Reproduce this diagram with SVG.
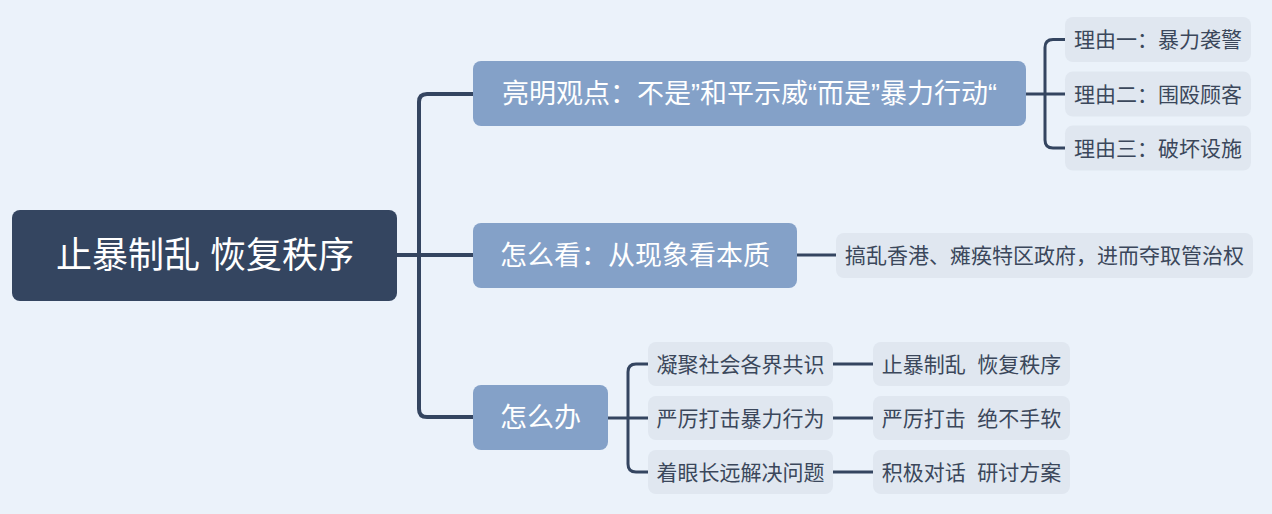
<svg xmlns="http://www.w3.org/2000/svg" width="1272" height="514" viewBox="0 0 1272 514">
<style>
text{font-family:"Liberation Sans","Noto Sans CJK SC",sans-serif;text-anchor:middle;dominant-baseline:central;white-space:pre}
.root{fill:#344560}
.rootT{fill:#ffffff;font-size:36px}
.br{fill:#84A1C8}
.brT{fill:#ffffff;font-size:27px}
.lf{fill:#E0E7F0}
.lfT{fill:#3B475B;font-size:21px}
.c{fill:none;stroke:#344560;stroke-linecap:round;stroke-linejoin:round}
.c1{stroke-width:4}
.c2{stroke-width:3}
</style>
<rect x="0" y="0" width="1272" height="514" fill="#EBF2FA"/>
<g id="connectors">
<path class="c c1" d="M397 255 H473 M473 94 H427 Q419 94 419 102 V409 Q419 417 427 417 H473"/>
<path class="c c2" d="M1026 94 H1065 M1065 39.5 H1053 Q1045 39.5 1045 47.5 V140 Q1045 148 1053 148 H1065"/>
<path class="c c2" d="M797 255 H836"/>
<path class="c c2" d="M608 418 H648 M648 364 H636 Q628 364 628 372 V464 Q628 472 636 472 H648"/>
<path class="c c2" d="M833 364 H873 M833 418 H873 M833 472 H873"/>
</g>
<g id="root"><rect class="root" x="12" y="210" width="385" height="91" rx="8"/><text class="rootT" x="205" y="255">止暴制乱 恢复秩序</text></g>
<g id="n1"><rect class="br" x="473" y="61" width="553" height="65" rx="8"/><text class="brT" x="749.5" y="93.5">亮明观点：不是”和平示威“而是”暴力行动“</text></g>
<g id="n2"><rect class="br" x="473" y="223" width="324" height="65" rx="8"/><text class="brT" x="635" y="255.5">怎么看：从现象看本质</text></g>
<g id="n3"><rect class="br" x="473" y="385" width="135" height="65" rx="8"/><text class="brT" x="540.5" y="417.5">怎么办</text></g>
<g id="r1"><rect class="lf" x="1065" y="17" width="186" height="45" rx="8"/><text class="lfT" x="1158" y="39.5">理由一：暴力袭警</text></g>
<g id="r2"><rect class="lf" x="1065" y="71.5" width="186" height="45" rx="8"/><text class="lfT" x="1158" y="94">理由二：围殴顾客</text></g>
<g id="r3"><rect class="lf" x="1065" y="125.5" width="186" height="45" rx="8"/><text class="lfT" x="1158" y="148">理由三：破坏设施</text></g>
<g id="s1"><rect class="lf" x="836" y="233" width="417" height="45" rx="8"/><text class="lfT" x="1044.5" y="255.5">搞乱香港、瘫痪特区政府，进而夺取管治权</text></g>
<g id="h1"><rect class="lf" x="648" y="342" width="185" height="44" rx="8"/><text class="lfT" x="740.5" y="364">凝聚社会各界共识</text></g>
<g id="h2"><rect class="lf" x="648" y="396" width="185" height="44" rx="8"/><text class="lfT" x="740.5" y="418">严厉打击暴力行为</text></g>
<g id="h3"><rect class="lf" x="648" y="450" width="185" height="44" rx="8"/><text class="lfT" x="740.5" y="472">着眼长远解决问题</text></g>
<g id="k1"><rect class="lf" x="873" y="342" width="197" height="44" rx="8"/><text class="lfT" x="971.5" y="364">止暴制乱  恢复秩序</text></g>
<g id="k2"><rect class="lf" x="873" y="396" width="197" height="44" rx="8"/><text class="lfT" x="971.5" y="418">严厉打击  绝不手软</text></g>
<g id="k3"><rect class="lf" x="873" y="450" width="197" height="44" rx="8"/><text class="lfT" x="971.5" y="472">积极对话  研讨方案</text></g>
</svg>
